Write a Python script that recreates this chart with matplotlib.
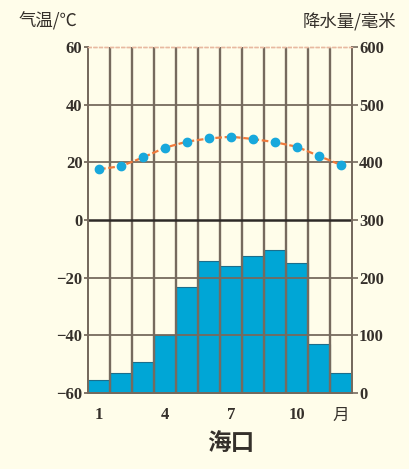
import matplotlib.pyplot as plt

MONTHS = [1, 2, 3, 4, 5, 6, 7, 8, 9, 10, 11, 12]
TEMP = [17.6, 18.7, 21.7, 25.1, 27.2, 28.3, 28.9, 28.1, 27.0, 25.4, 22.2, 19.1]
PRECIP = [23, 35, 54, 100, 184, 229, 220, 238, 248, 226, 85, 35]
TEMP_TICKS = [60, 40, 20, 0, -20, -40, -60]
PRECIP_TICKS = [600, 500, 400, 300, 200, 100, 0]
X_TICKS = [1, 4, 7, 10, 12]
X_LABELS = ['1', '4', '7', '10', '月']

BG = '#fffdea'
GRID = '#766a5e'
TXT = '#35302b'
CJK_FONT = ['Noto Sans CJK SC', 'DejaVu Sans']

plt.rcParams['font.family'] = ['Liberation Serif', 'Noto Sans CJK SC']
plt.rcParams['font.weight'] = 'bold'
plt.rcParams['font.size'] = 12
plt.rcParams['axes.unicode_minus'] = True


def main():
    fig = plt.figure(figsize=(4.09, 4.69), dpi=100, facecolor=BG)
    ax = fig.add_axes([0.2152, 0.162, 0.6455, 0.7377])
    ax2 = ax.twinx()

    # temperature axes on top, precip axes holds background
    ax.set_zorder(ax2.get_zorder() + 1)
    ax.patch.set_visible(False)
    ax2.patch.set_facecolor(BG)

    ax2.bar(MONTHS, PRECIP, width=1.0, color='#00a6d6', edgecolor='#1b6e8c',
            linewidth=0.8, zorder=1)
    for m in MONTHS[:-1]:
        ax2.axvline(m + 0.5, color=GRID, lw=1.7, zorder=2)
    for p in PRECIP_TICKS[1:-1]:
        if p == 300:
            ax2.axhline(p, color='#2e2a27', lw=1.8, zorder=2)
        else:
            ax2.axhline(p, color=GRID, lw=1.3, zorder=2)

    ax.plot(MONTHS, TEMP, color='#f07a3c', lw=1.6, ls=(0, (3, 1.2)), zorder=3)
    ax.plot(MONTHS, TEMP, 'o', color='#18a8dc', ms=6, zorder=4)

    ax.set_xlim(0.5, 12.5)
    ax.set_ylim(-60, 60)
    ax2.set_ylim(0, 600)

    ax.set_yticks(TEMP_TICKS)
    ax.set_yticklabels([str(t).replace('-', '\u2212') for t in TEMP_TICKS])
    ax2.set_yticks(PRECIP_TICKS)
    ax2.set_yticklabels([str(p) for p in PRECIP_TICKS])
    ax.set_xticks(X_TICKS)
    ax.set_xticklabels(X_LABELS)
    for lab in ax.get_xticklabels():
        if lab.get_text() == '月':
            lab.set_family(CJK_FONT)
            lab.set_weight('normal')

    ax.tick_params(axis='y', length=3, width=1.3, color=GRID, pad=1,
                   labelcolor=TXT)
    ax.tick_params(axis='x', length=0, pad=10, labelcolor=TXT)
    ax2.tick_params(axis='y', length=4, width=1.2, color=GRID, pad=1,
                    labelcolor=TXT)

    for a in (ax, ax2):
        for s in a.spines.values():
            s.set_color(GRID)
            s.set_linewidth(1.4)
        a.spines['top'].set_color('#e8b9a0')
        a.spines['top'].set_linestyle((0, (2, 2)))
        a.spines['top'].set_linewidth(1.0)
    ax2.spines['bottom'].set_color('#1b6e8c')

    fig.text(0.045, 0.944, '气温/℃', family=CJK_FONT, fontsize=12.5,
             color=TXT, weight='medium')
    fig.text(0.97, 0.944, '降水量/毫米', family=CJK_FONT, fontsize=12.5,
             color=TXT, ha='right', weight='medium')
    fig.text(0.565, 0.04, '海口', family=CJK_FONT, fontsize=17, color=TXT,
             ha='center', weight='bold')

    plt.savefig('out.png', dpi=100, facecolor=BG)


if __name__ == '__main__':
    main()
